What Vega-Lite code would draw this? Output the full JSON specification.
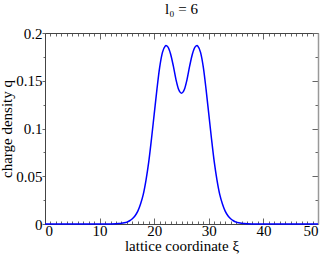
{
  "$schema": "https://vega.github.io/schema/vega-lite/v6.json",
  "width": 273,
  "height": 191,
  "autosize": {"type": "none"},
  "padding": {"left": 45, "top": 33, "right": 9, "bottom": 33},
  "config": {
    "view": {"stroke": null},
    "font": "Liberation Serif",
    "axis": {
      "labelFont": "Liberation Serif",
      "titleFont": "Liberation Serif",
      "labelFontSize": 15,
      "titleFontSize": 15,
      "titleFontWeight": "normal",
      "labelColor": "#000000",
      "titleColor": "#000000",
      "domainColor": "#444444",
      "tickColor": "#666666",
      "grid": false
    }
  },
  "title": {
    "text": "l₀ = 6",
    "font": "Liberation Serif",
    "fontSize": 15,
    "fontWeight": "normal",
    "anchor": "middle",
    "offset": 9
  },
  "data": {
    "values": [
      {"xi": 0, "q": 0}, {"xi": 2, "q": 0}, {"xi": 4, "q": 0}, {"xi": 6, "q": 0},
      {"xi": 8, "q": 0}, {"xi": 10, "q": 0}, {"xi": 11, "q": 0.00002},
      {"xi": 12, "q": 0.00006}, {"xi": 13, "q": 0.0002}, {"xi": 13.5, "q": 0.0004},
      {"xi": 14, "q": 0.0007}, {"xi": 14.5, "q": 0.0012}, {"xi": 15, "q": 0.002},
      {"xi": 15.5, "q": 0.0034}, {"xi": 16, "q": 0.0055}, {"xi": 16.5, "q": 0.0087},
      {"xi": 17, "q": 0.0135}, {"xi": 17.5, "q": 0.021}, {"xi": 18, "q": 0.031},
      {"xi": 18.5, "q": 0.046}, {"xi": 19, "q": 0.065}, {"xi": 19.5, "q": 0.089},
      {"xi": 20, "q": 0.115}, {"xi": 20.5, "q": 0.141}, {"xi": 21, "q": 0.164},
      {"xi": 21.5, "q": 0.1795}, {"xi": 22, "q": 0.1862}, {"xi": 22.15, "q": 0.1868},
      {"xi": 22.5, "q": 0.1855}, {"xi": 23, "q": 0.178}, {"xi": 23.5, "q": 0.1655},
      {"xi": 24, "q": 0.151}, {"xi": 24.5, "q": 0.1405}, {"xi": 25, "q": 0.137},
      {"xi": 25.5, "q": 0.1405}, {"xi": 26, "q": 0.151}, {"xi": 26.5, "q": 0.1655},
      {"xi": 27, "q": 0.178}, {"xi": 27.5, "q": 0.1855}, {"xi": 27.85, "q": 0.1868},
      {"xi": 28, "q": 0.1862}, {"xi": 28.5, "q": 0.1795}, {"xi": 29, "q": 0.164},
      {"xi": 29.5, "q": 0.141}, {"xi": 30, "q": 0.115}, {"xi": 30.5, "q": 0.089},
      {"xi": 31, "q": 0.065}, {"xi": 31.5, "q": 0.046}, {"xi": 32, "q": 0.031},
      {"xi": 32.5, "q": 0.021}, {"xi": 33, "q": 0.0135}, {"xi": 33.5, "q": 0.0087},
      {"xi": 34, "q": 0.0055}, {"xi": 34.5, "q": 0.0034}, {"xi": 35, "q": 0.002},
      {"xi": 35.5, "q": 0.0012}, {"xi": 36, "q": 0.0007}, {"xi": 36.5, "q": 0.0004},
      {"xi": 37, "q": 0.0002}, {"xi": 38, "q": 0.00006}, {"xi": 39, "q": 0.00002},
      {"xi": 40, "q": 0}, {"xi": 42, "q": 0}, {"xi": 44, "q": 0}, {"xi": 46, "q": 0},
      {"xi": 48, "q": 0}, {"xi": 50, "q": 0}
    ]
  },
  "layer": [
    {
      "mark": {"type": "line", "strokeOpacity": 0},
      "encoding": {
        "x": {"field": "xi", "type": "quantitative", "scale": {"domain": [0, 50], "nice": false},
          "axis": {"orient": "top", "values": [1,2,3,4,5,6,7,8,9,11,12,13,14,15,16,17,18,19,21,22,23,24,25,26,27,28,29,31,32,33,34,35,36,37,38,39,41,42,43,44,45,46,47,48,49],
            "tickSize": -3, "labels": false, "domain": false, "title": null}},
        "y": {"field": "q", "type": "quantitative", "scale": {"domain": [0, 0.2], "nice": false},
          "axis": {"orient": "right", "values": [0.025, 0.075, 0.125, 0.175], "tickSize": -3, "labels": false, "domain": false, "title": null}}
      }
    },
    {
      "mark": {"type": "line", "strokeOpacity": 0},
      "encoding": {
        "x": {"field": "xi", "type": "quantitative",
          "axis": {"orient": "top", "values": [0, 10, 20, 30, 40, 50], "tickSize": -6, "labels": false, "domain": true, "title": null}},
        "y": {"field": "q", "type": "quantitative",
          "axis": {"orient": "right", "values": [0, 0.05, 0.1, 0.15, 0.2], "tickSize": -6, "labels": false, "domain": true, "domainColor": "#999999", "domainWidth": 1.5, "title": null}}
      }
    },
    {
      "mark": {"type": "line", "strokeOpacity": 0},
      "encoding": {
        "x": {"field": "xi", "type": "quantitative",
          "axis": {"orient": "bottom", "values": [1,2,3,4,5,6,7,8,9,11,12,13,14,15,16,17,18,19,21,22,23,24,25,26,27,28,29,31,32,33,34,35,36,37,38,39,41,42,43,44,45,46,47,48,49],
            "tickSize": -3, "labels": false, "domain": false, "title": null}},
        "y": {"field": "q", "type": "quantitative",
          "axis": {"orient": "left", "values": [0.025, 0.075, 0.125, 0.175], "tickSize": 2, "labels": false, "domain": false, "title": null}}
      }
    },
    {
      "mark": {"type": "line", "color": "#0000ff", "strokeWidth": 1.5, "interpolate": "monotone"},
      "encoding": {
        "x": {"field": "xi", "type": "quantitative",
          "axis": {"orient": "bottom", "values": [0, 10, 20, 30, 40, 50], "format": "d", "tickSize": -6, "labelPadding": 5, "title": "lattice coordinate ξ", "titlePadding": 0}},
        "y": {"field": "q", "type": "quantitative",
          "axis": {"orient": "left", "values": [0, 0.05, 0.1, 0.15, 0.2], "format": "~g", "tickSize": 3, "labelPadding": 0, "title": "charge density q", "titlePadding": 1}}
      }
    }
  ],
  "resolve": {"axis": {"x": "independent", "y": "independent"}}
}
